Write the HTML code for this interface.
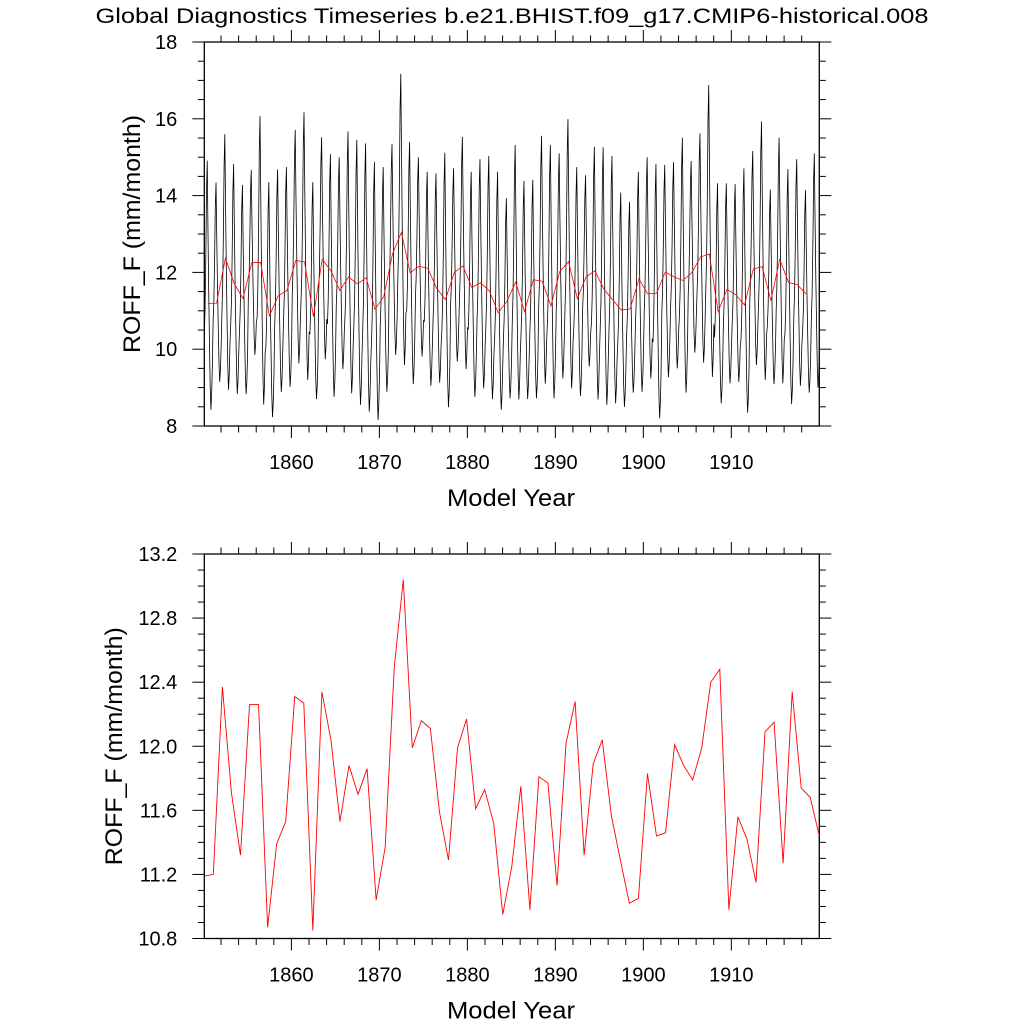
<!DOCTYPE html>
<html><head><meta charset="utf-8"><style>
html,body{margin:0;padding:0;background:#fff;}
svg{display:block;font-family:"Liberation Sans",Arial,sans-serif;}
</style></head><body>
<svg id="chart" width="1024" height="1024" viewBox="0 0 1024 1024" xmlns="http://www.w3.org/2000/svg">
<text x="512" y="23" font-size="21" text-anchor="middle" textLength="833" lengthAdjust="spacingAndGlyphs">Global Diagnostics Timeseries b.e21.BHIST.f09_g17.CMIP6-historical.008</text>
<g id="topPanel"></g>
<g id="botPanel"></g>
</svg>
<script>
// Annual mean ROFF_F (mm/month)
const annualValues = [11.19,11.20,12.37,11.71,11.32,12.26,12.26,10.87,11.39,11.53,12.31,12.27,10.85,12.34,12.04,11.53,11.88,11.70,11.86,11.04,11.37,12.49,13.04,11.99,12.16,12.11,11.59,11.29,11.99,12.17,11.61,11.73,11.52,10.95,11.25,11.75,10.98,11.81,11.77,11.13,12.02,12.28,11.32,11.89,12.04,11.57,11.29,11.02,11.05,11.83,11.44,11.46,12.01,11.88,11.79,11.99,12.40,12.48,10.98,11.56,11.42,11.15,12.09,12.15,11.27,12.34,11.74,11.68,11.44];
// Yearly seasonal peak / trough of monthly series
const monthlyPeaks = [14.91,14.34,15.60,14.82,14.28,14.67,16.07,14.35,14.68,14.74,15.71,16.17,14.35,15.52,15.08,15.00,15.67,15.45,15.36,14.88,14.74,15.34,17.17,15.40,
15.00,14.62,14.58,15.12,14.71,15.53,14.62,14.95,15.03,14.62,13.93,15.32,14.38,14.41,15.56,15.32,15.10,15.99,14.74,14.53,15.27,15.26,15.03,
14.08,13.84,14.62,15.00,14.82,14.80,14.87,15.51,14.90,15.62,16.88,14.32,14.32,14.30,14.71,15.16,15.93,14.16,15.51,14.69,14.95,14.15,15.10];
const monthlyTroughs = [8.42,9.15,8.94,8.83,8.83,9.85,8.56,8.23,8.89,9.02,9.63,9.20,8.70,9.74,8.76,9.48,8.85,8.55,8.37,8.16,8.89,9.85,9.59,
9.09,9.81,9.05,9.13,8.49,9.68,9.48,8.76,8.98,8.70,8.42,8.72,8.69,8.70,8.72,9.10,8.72,9.24,8.98,8.78,9.55,8.69,8.55,
8.59,8.50,8.87,8.89,9.24,8.20,9.27,9.50,8.87,9.91,9.65,9.28,8.59,9.11,9.15,8.35,9.59,9.20,9.09,9.11,8.57,9.05,8.87,9.00];
// Climatological seasonal shape (0 = trough, 1 = peak), Jan..Dec
const seasonalShape = [0.30,0.40,0.60,0.88,1.00,0.72,0.48,0.28,0.10,0.00,0.06,0.18];
const xTickYears = [1860,1870,1880,1890,1900,1910];
const topYTicks = ["8","10","12","14","16","18"];
const botYTicks = ["10.8","11.2","11.6","12.0","12.4","12.8","13.2"];

const NS="http://www.w3.org/2000/svg";
const X0=204.3, X1=819.3, XMIN=1850.1, XMAX=1920.0;
function xs(t){return X0+(t-XMIN)/(XMAX-XMIN)*(X1-X0);}
function mk(tag,parent,attrs){const e=document.createElementNS(NS,tag);for(const k in attrs)e.setAttribute(k,attrs[k]);parent.appendChild(e);return e;}

function panel(g,Y0,Y1,ymin,ymax,yTicks,minorStep,prefix,titleX){
  const ys=v=>Y1-(v-ymin)/(ymax-ymin)*(Y1-Y0);
  const clipId=prefix+'-clip';
  const cp=mk('clipPath',g,{id:clipId});mk('rect',cp,{x:X0,y:Y0,width:X1-X0,height:Y1-Y0});
  const frame=mk('rect',g,{x:X0,y:Y0,width:X1-X0,height:Y1-Y0,fill:'none',stroke:'#000','stroke-width':1.3});
  
  
  for(let yr=1852;yr<=1918;yr+=2){
    const x=xs(yr);const major=yr%10===0;
    const L=major?12:6.5;
    mk('line',g,{x1:x,x2:x,y1:Y1,y2:Y1+L,stroke:'#000','stroke-width':1});
    mk('line',g,{x1:x,x2:x,y1:Y0,y2:Y0-L,stroke:'#000','stroke-width':1});
  }
  xTickYears.forEach(yr=>{
    const t=mk('text',g,{x:xs(yr),y:Y1+43,'font-size':20,'text-anchor':'middle'});
    
    
    t.textContent=yr;
  });
  for(let v=ymin;v<=ymax+1e-6;v+=minorStep){
    const y=ys(v);
    const isMajor=yTicks.some(tk=>Math.abs(parseFloat(tk)-v)<1e-6);
    const L=isMajor?12:6.5;
    mk('line',g,{x1:X0,x2:X0-L,y1:y,y2:y,stroke:'#000','stroke-width':1});
    mk('line',g,{x1:X1,x2:X1+L,y1:y,y2:y,stroke:'#000','stroke-width':1});
  }
  yTicks.forEach(tk=>{
    const t=mk('text',g,{x:X0-27,y:ys(parseFloat(tk))+7,'font-size':20,'text-anchor':'end'});
    
    
    t.textContent=tk;
  });
  const xt=mk('text',g,{x:511,y:Y1+80,'font-size':24,'text-anchor':'middle',textLength:128,lengthAdjust:'spacingAndGlyphs'});
  
  
  xt.textContent='Model Year';
  const cx=titleX, cy=(Y0+Y1)/2;
  const yt=mk('text',g,{x:cx,y:cy,'font-size':24,'text-anchor':'middle',transform:`rotate(-90 ${cx} ${cy})`,textLength:238,lengthAdjust:'spacingAndGlyphs'});
  
  
  yt.textContent='ROFF_F (mm/month)';
  return {ys,clipId};
}

// Top panel: monthly series + annual mean
const topG=document.getElementById('topPanel');
const P1=panel(topG,42,426,8,18,topYTicks,0.5,'top',140);
let d='';
for(let k=0;k<monthlyPeaks.length;k++){
  const hi=monthlyPeaks[k], lo=monthlyTroughs[k];
  for(let m=0;m<12;m++){
    const v=lo+seasonalShape[m]*(hi-lo);
    const t=XMIN+k+m/12;
    d+=(d?'L':'M')+xs(t).toFixed(2)+','+P1.ys(v).toFixed(2);
  }
}
const mline=mk('path',topG,{d:d,fill:'none',stroke:'#000','stroke-width':0.8,'clip-path':`url(#${P1.clipId})`});


const topStart=1850.5, topEnd=1918.5;
let d2='';
annualValues.forEach((v,k)=>{const t=topStart+k*(topEnd-topStart)/(annualValues.length-1);d2+=(k?'L':'M')+xs(t).toFixed(2)+','+P1.ys(v).toFixed(2);});
const aline1=mk('path',topG,{d:d2,fill:'none',stroke:'#ff0000','stroke-width':0.8,'clip-path':`url(#${P1.clipId})`});



// Bottom panel: annual mean
const botG=document.getElementById('botPanel');
const P2=panel(botG,554,938.5,10.8,13.2,botYTicks,0.1,'bot',122);
let d3='';
annualValues.forEach((v,k)=>{const t=XMIN+k*(XMAX-XMIN)/(annualValues.length-1);d3+=(k?'L':'M')+xs(t).toFixed(2)+','+P2.ys(v).toFixed(2);});
const aline2=mk('path',botG,{d:d3,fill:'none',stroke:'#ff0000','stroke-width':0.9,'clip-path':`url(#${P2.clipId})`});


</script>
</body></html>
